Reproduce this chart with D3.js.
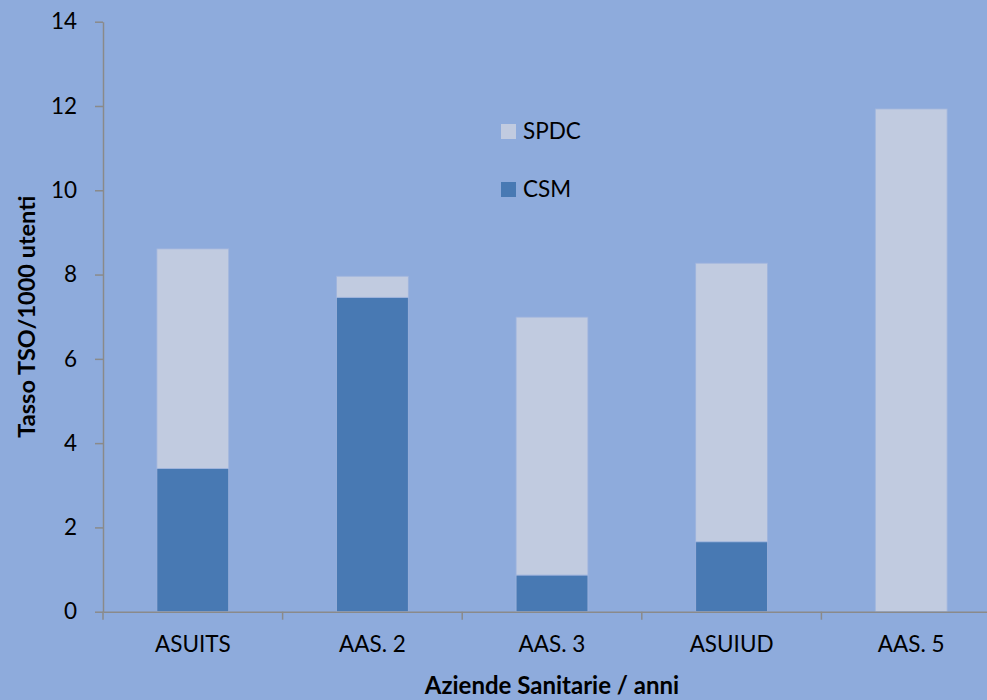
<!DOCTYPE html>
<html>
<head>
<meta charset="utf-8">
<script src="https://cdn.jsdelivr.net/npm/d3@7"></script>
<style>
  html, body { margin: 0; padding: 0; background: #8eabdc; overflow: hidden; }
  svg { display: block; font-family: Lato, "Open Sans", sans-serif; }
  svg text { font-family: Lato, "Open Sans", sans-serif; }
</style>
</head>
<body>
<svg id="chart" width="987" height="700"></svg>
<script>
// Aziende sanitarie and TSO rate per 1000 users, split by service
const categories = ["ASUITS", "AAS. 2", "AAS. 3", "ASUIUD", "AAS. 5"];
const csmValues  = [3.40, 7.46, 0.87, 1.66, 0.00];
const spdcValues = [5.21, 0.50, 6.12, 6.61, 11.93];
const yTicks = [0, 2, 4, 6, 8, 10, 12, 14];
const seriesNames = ["CSM", "SPDC"];
const seriesColors = { CSM: "#4879b3", SPDC: "#c1cbe0" };

const rows = categories.map((c, i) => ({ cat: c, CSM: csmValues[i], SPDC: spdcValues[i] }));
const stacked = d3.stack().keys(seriesNames)(rows);

const svg = d3.select("#chart");
const margin = { left: 103, top: 21.7, bottom: 611.7, right: 1001 };

const x = d3.scaleBand()
  .domain(categories)
  .range([margin.left, margin.right])
  .paddingInner(0.6)
  .paddingOuter(0.3);

const y = d3.scaleLinear().domain([0, 14]).range([margin.bottom, margin.top]);

// stacked bars
svg.append("g").selectAll("g")
  .data(stacked)
  .join("g")
  .attr("fill", d => seriesColors[d.key])
  .selectAll("rect")
  .data(d => d.filter(p => p[1] - p[0] > 0))
  .join("rect")
  .attr("x", d => x(d.data.cat))
  .attr("width", x.bandwidth())
  .attr("y", d => y(d[1]))
  .attr("height", d => y(d[0]) - y(d[1]))
  .attr("stroke", "#9fb4dd")
  .attr("stroke-width", 0.8);

// y axis
const yAxis = svg.append("g")
  .attr("transform", `translate(${margin.left},0)`)
  .call(d3.axisLeft(y).tickValues(yTicks).tickSize(8).tickPadding(18).tickSizeOuter(0));
yAxis.attr("font-family", null).attr("font-size", null);
yAxis.select(".domain").attr("stroke", "#8a8a8a").attr("stroke-width", 1.5);
yAxis.selectAll(".tick line").attr("stroke", "#8a8a8a").attr("stroke-width", 1.5);
yAxis.selectAll(".tick text").attr("fill", "#000").style("font-size", "22.5px");

// x axis, with ticks on the category boundaries
const xAxis = svg.append("g")
  .attr("transform", `translate(0,${margin.bottom})`)
  .call(d3.axisBottom(x).tickSize(0).tickPadding(24));
xAxis.attr("font-family", null).attr("font-size", null);
xAxis.select(".domain").attr("stroke", "#8a8a8a").attr("stroke-width", 1.5);
xAxis.selectAll(".tick text").attr("fill", "#000").style("font-size", "22.5px");
const step = x.step();
const boundaries = d3.range(categories.length + 1).map(i => margin.left + i * step);
xAxis.selectAll(".bound")
  .data(boundaries)
  .join("line")
  .attr("class", "bound")
  .attr("x1", d => d).attr("x2", d => d)
  .attr("y1", 0).attr("y2", 8)
  .attr("stroke", "#8a8a8a").attr("stroke-width", 1.5);

// axis titles
svg.append("text")
  .attr("transform", `translate(35,${(margin.top + margin.bottom) / 2}) rotate(-90)`)
  .attr("text-anchor", "middle")
  .style("font-size", "23.5px").style("font-weight", "bold")
  .text("Tasso TSO/1000 utenti");

svg.append("text")
  .attr("x", (margin.left + margin.right) / 2).attr("y", 694)
  .attr("text-anchor", "middle")
  .style("font-size", "24px").style("font-weight", "bold")
  .text("Aziende Sanitarie / anni");

// legend
const legendItems = ["SPDC", "CSM"];
const legend = svg.append("g").selectAll("g")
  .data(legendItems)
  .join("g")
  .attr("transform", (d, i) => `translate(501,${124 + i * 58})`);
legend.append("rect")
  .attr("width", 15).attr("height", 15)
  .attr("fill", d => seriesColors[d]);
legend.append("text")
  .attr("x", 22).attr("y", 14.5)
  .style("font-size", "22.5px")
  .text(d => d);
</script>
</body>
</html>
